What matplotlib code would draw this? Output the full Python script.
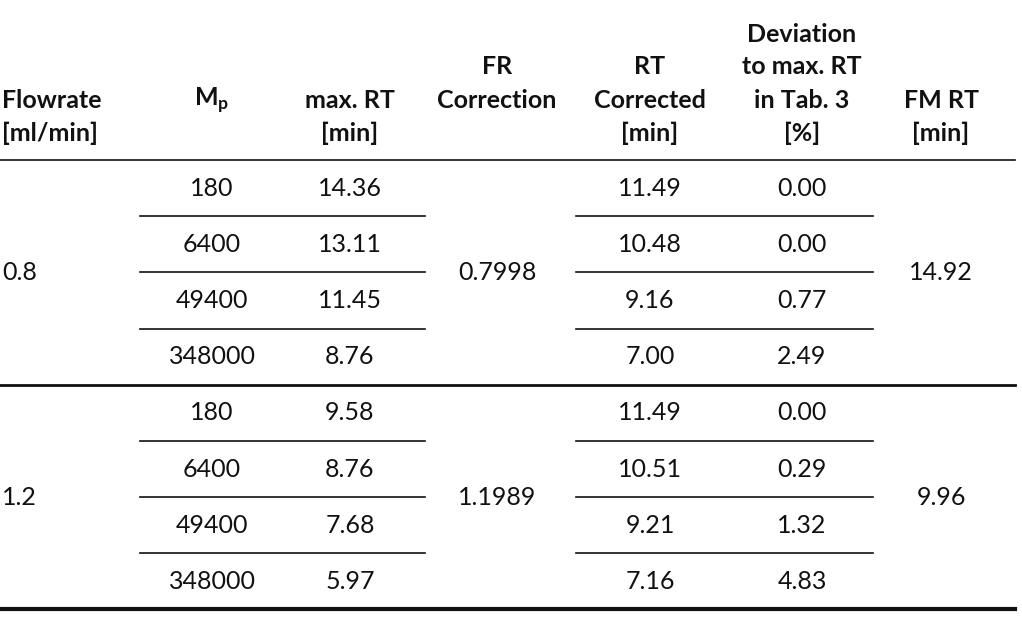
import matplotlib.pyplot as plt

# table data
flowrates = ["0.8", "1.2"]
mp_values = ["180", "6400", "49400", "348000"]
max_rt = [["14.36", "13.11", "11.45", "8.76"], ["9.58", "8.76", "7.68", "5.97"]]
fr_corr = ["0.7998", "1.1989"]
rt_corr = [["11.49", "10.48", "9.16", "7.00"], ["11.49", "10.51", "9.21", "7.16"]]
deviation = [["0.00", "0.00", "0.77", "2.49"], ["0.00", "0.29", "1.32", "4.83"]]
fm_rt = ["14.92", "9.96"]

headers = [
    ["Flowrate", "[ml/min]"],
    ["M$_\\mathregular{p}$"],
    ["max. RT", "[min]"],
    ["FR", "Correction"],
    ["RT", "Corrected", "[min]"],
    ["Deviation", "to max. RT", "in Tab. 3", "[%]"],
    ["FM RT", "[min]"],
]
# which header line the last entry sits on (0 = bottom line)
header_bottom = [0, 1, 0, 1, 0, 0, 0]
col_x = [2, 212, 350, 497, 650, 802, 941]
col_ha = ["left"] + ["center"] * 6

plt.rcParams["font.family"] = "Lato"
fig = plt.figure(figsize=(10.22, 6.24), dpi=100)
ax = fig.add_axes([0, 0, 1, 1])
ax.set_xlim(0, 1022)
ax.set_ylim(624, 0)
ax.axis("off")

fs = 18
color = "#111111"

line_h = 33
for x, ha, lines, b in zip(col_x, col_ha, headers, header_bottom):
    n = len(lines)
    for i, t in enumerate(lines):
        y = 133 - (n - 1 - i + b) * line_h
        ax.text(x, y, t, ha=ha, va="center", fontsize=fs, fontweight="bold", color=color)

ax.plot([0, 1015], [160, 160], color=color, lw=1.2)

row_h = 56.2
top = 160
for g in range(2):
    g_top = top + g * 4 * row_h
    mid = g_top + 2 * row_h
    ax.text(col_x[0], mid, flowrates[g], ha="left", va="center", fontsize=fs, color=color)
    ax.text(col_x[3], mid, fr_corr[g], ha="center", va="center", fontsize=fs, color=color)
    ax.text(col_x[6], mid, fm_rt[g], ha="center", va="center", fontsize=fs, color=color)
    for r in range(4):
        yc = g_top + (r + 0.5) * row_h
        ax.text(col_x[1], yc, mp_values[r], ha="center", va="center", fontsize=fs, color=color)
        ax.text(col_x[2], yc, max_rt[g][r], ha="center", va="center", fontsize=fs, color=color)
        ax.text(col_x[4], yc, rt_corr[g][r], ha="center", va="center", fontsize=fs, color=color)
        ax.text(col_x[5], yc, deviation[g][r], ha="center", va="center", fontsize=fs, color=color)
        if r < 3:
            yl = g_top + (r + 1) * row_h
            ax.plot([140, 425], [yl, yl], color=color, lw=1.2)
            ax.plot([576, 873], [yl, yl], color=color, lw=1.2)

ax.plot([0, 1015], [top + 4 * row_h, top + 4 * row_h], color=color, lw=2)
ax.plot([0, 1015], [609, 609], color=color, lw=3)

fig.savefig("out.png", dpi=100)
